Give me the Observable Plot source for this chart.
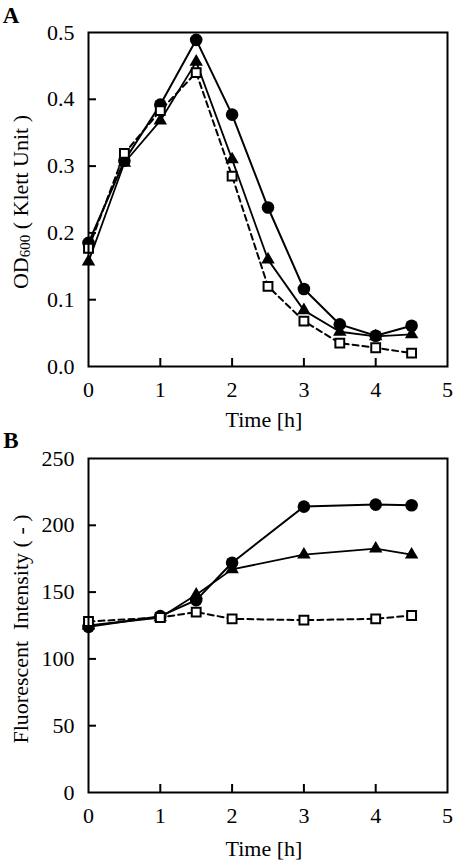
<!DOCTYPE html>
<html><head><meta charset="utf-8">
<script src="https://cdn.jsdelivr.net/npm/d3@7"></script>
<script src="https://cdn.jsdelivr.net/npm/@observablehq/plot@0.6"></script>
<style>
body{margin:0;background:#fff;}
#chart svg{display:block;overflow:visible;}
</style>
</head><body><div id="chart"></div>
<script>
// Panel A: OD600
const timeA = [0, 0.5, 1, 1.5, 2, 2.5, 3, 3.5, 4, 4.5];
const odCircle   = [0.185, 0.308, 0.392, 0.489, 0.377, 0.238, 0.116, 0.063, 0.046, 0.061];
const odTriangle = [0.157, 0.305, 0.368, 0.456, 0.310, 0.160, 0.084, 0.052, 0.045, 0.048];
const odSquare   = [0.177, 0.319, 0.383, 0.440, 0.285, 0.120, 0.068, 0.035, 0.028, 0.020];
// Panel B: fluorescent intensity
const timeB = [0, 1, 1.5, 2, 3, 4, 4.5];
const flCircle   = [124, 132, 144, 172, 214, 215.5, 215];
const flTriangle = [125, 131, 148, 167, 178, 182.5, 178];
const flSquare   = [128, 131, 135, 130, 129, 130, 132.5];
// ticks and labels
const xTicks = [0, 1, 2, 3, 4, 5];
const yTicksA = [0, 0.1, 0.2, 0.3, 0.4, 0.5];
const yTicksB = [0, 50, 100, 150, 200, 250];
const xLabel = "Time [h]";
const yLabelB = "Fluorescent  Intensity ( - )";

const FONT = "'Liberation Serif', 'Times New Roman', serif";
const FS = 22;
const W = 455, ML = 88, MR = 8;

function rows(time, vals) { return time.map((t, i) => ({t, v: vals[i]})); }

function panel({time, circ, tri, sq, yTicks, yFmt, height, marginTop, marginBottom}) {
  const plotH = height - marginTop - marginBottom;
  const plotW = W - ML - MR;
  const dc = rows(time, circ), dt = rows(time, tri), ds = rows(time, sq);
  return Plot.plot({
    width: W, height, marginTop, marginBottom, marginLeft: ML, marginRight: MR,
    style: {fontFamily: FONT, fontSize: FS + "px", color: "#000", background: "transparent", overflow: "visible"},
    x: {domain: [0, 5], label: null},
    y: {domain: [yTicks[0], yTicks[yTicks.length - 1]], label: null},
    marks: [
      Plot.axisX({ticks: xTicks, tickSize: 0, tickPadding: 15, label: null, fontSize: FS, tickFormat: d3.format("d")}),
      Plot.axisY({ticks: yTicks, tickSize: 0, tickPadding: 14, label: null, fontSize: FS, tickFormat: yFmt}),
      Plot.tickX(xTicks.slice(1, -1), {x: d => d, insetTop: plotH - 8, stroke: "#000", strokeWidth: 2}),
      Plot.tickY(yTicks.slice(1, -1), {y: d => d, insetRight: plotW - 8, stroke: "#000", strokeWidth: 2}),
      Plot.line(ds, {x: "t", y: "v", stroke: "#000", strokeWidth: 2, strokeDasharray: "6,4"}),
      Plot.line(dt, {x: "t", y: "v", stroke: "#000", strokeWidth: 1.8}),
      Plot.line(dc, {x: "t", y: "v", stroke: "#000", strokeWidth: 2}),
      Plot.dot(dc, {x: "t", y: "v", symbol: "circle", r: 6.3, fill: "#000", stroke: "none"}),
      Plot.dot(dt, {x: "t", y: "v", symbol: "triangle", r: 5, fill: "#000", stroke: "none"}),
      Plot.dot(ds, {x: "t", y: "v", symbol: "square", r: 5, fill: "#fff", stroke: "#000", strokeWidth: 2}),
      Plot.frame({stroke: "#000", strokeWidth: 2})
    ]
  });
}

const svgA = panel({time: timeA, circ: odCircle, tri: odTriangle, sq: odSquare,
  yTicks: yTicksA, yFmt: d3.format(".1f"), height: 425, marginTop: 32, marginBottom: 59});
const svgB = panel({time: timeB, circ: flCircle, tri: flTriangle, sq: flSquare,
  yTicks: yTicksB, yFmt: d3.format("d"), height: 443, marginTop: 33, marginBottom: 76});

const root = document.getElementById("chart");
root.appendChild(svgA);
root.appendChild(svgB);

function addText(svg, {panelLetter, yLabel, yCenter, xLabelY}) {
  const s = d3.select(svg);
  s.append("text").attr("x", 11).attr("y", 23)
    .attr("font-family", FONT).attr("font-size", 23).attr("font-weight", "bold").attr("fill", "#000")
    .text(panelLetter);
  s.append("text").attr("x", 264).attr("y", xLabelY).attr("text-anchor", "middle")
    .attr("font-family", FONT).attr("font-size", FS).attr("fill", "#000").text(xLabel);
  const t = s.append("text").attr("text-anchor", "middle").attr("dominant-baseline", "central")
    .attr("transform", `translate(20,${yCenter}) rotate(-90)`)
    .attr("font-family", FONT).attr("font-size", FS).attr("fill", "#000")
    .style("white-space", "pre");
  yLabel(t);
}

addText(svgA, {panelLetter: "A", yCenter: 202, xLabelY: 427, yLabel: t => {
  t.append("tspan").text("OD");
  t.append("tspan").attr("font-size", 15).attr("dy", 5).text("600");
  t.append("tspan").attr("dy", -5).text(" ( Klett Unit )");
}});
addText(svgB, {panelLetter: "B", yCenter: 204, xLabelY: 431, yLabel: t => { t.text(yLabelB); }});
</script>
</body></html>
